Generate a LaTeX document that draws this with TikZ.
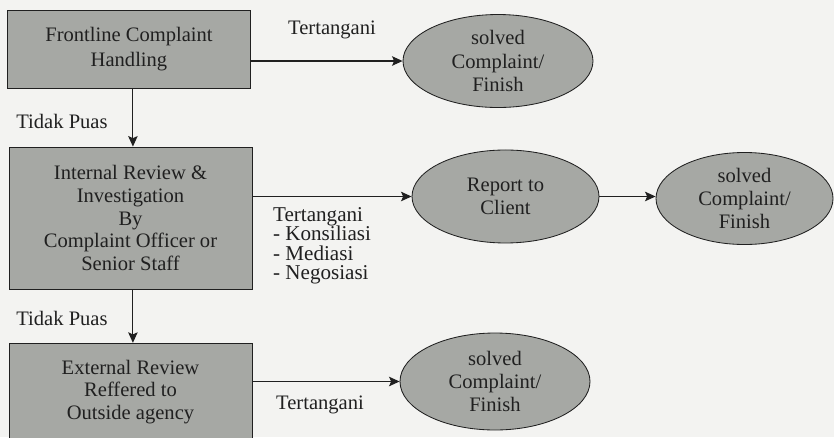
\documentclass[tikz,border=0pt]{standalone}
\usepackage{fontspec}
\setmainfont{Liberation Serif}
\usepackage{xcolor}
\usepackage{tikz}
\usetikzlibrary{arrows.meta,positioning,shapes.geometric}

\definecolor{paper}{RGB}{243,243,241}
\definecolor{boxgray}{RGB}{166,168,164}
\definecolor{inkgray}{RGB}{32,32,32}

\begin{document}
\begin{tikzpicture}[
    stagebox/.style={draw=inkgray, line width=0.8pt, fill=boxgray, text=inkgray, align=center,
        minimum width=8.1cm, inner sep=0pt, font=\fontsize{19.5}{21.5}\selectfont},
    result/.style={draw=inkgray, line width=0.8pt, ellipse, fill=boxgray, text=inkgray, align=center,
        inner sep=0pt, font=\fontsize{19.5}{22}\selectfont},
    note/.style={text=inkgray, font=\fontsize{19.5}{22}\selectfont},
    edge/.style={inkgray, line width=1.1pt, -{Stealth[length=10pt, width=9pt, inset=2pt]}}
]

\fill[paper] (0,0) rectangle (27.8,14.567);
\clip (0,0) rectangle (27.8,14.567);

\node[stagebox, minimum height=2.6cm] (front) at (4.3, 12.933)
  {Frontline Complaint\\[3pt]Handling};
\node[stagebox, minimum height=4.733cm] (internal) at (4.35, 7.3)
  {Internal Review \&\\Investigation\\By\\Complaint Officer or\\Senior Staff};
\node[stagebox, minimum height=3.25cm] (external) at (4.35, 1.5)
  {External Review\\Reffered to\\Outside agency};

\node[result, minimum width=6.333cm, minimum height=3.1cm] (solvedA) at (16.6, 12.533)
  {solved\\Complaint/\\Finish};
\node[result, minimum width=6.233cm, minimum height=3.1cm] (report) at (16.85, 8.017)
  {Report to\\Client};
\node[result, minimum width=5.9cm, minimum height=3.067cm] (solvedB) at (24.817, 7.95)
  {solved\\Complaint/\\Finish};
\node[result, minimum width=6.333cm, minimum height=3.233cm] (solvedC) at (16.5, 1.85)
  {solved\\Complaint/\\Finish};

\draw[edge] (front.south -| 4.43,0) -- (internal.north -| 4.43,0);
\draw[edge] (internal.south -| 4.43,0) -- (external.north -| 4.43,0);
\draw[edge] (solvedA.west -| front.east) -- (solvedA.west);
\draw[edge] (report.west -| internal.east) -- (report.west);
\draw[edge] (report.east) -- (report.east -| solvedB.west);
\draw[edge] (solvedC.west -| external.east) -- (solvedC.west);

\node[note] (handledA) at (11.067, 13.567) {Tertangani};
\node[note] (unhappyA) at (2.067, 10.533) {Tidak Puas};
\node[note, align=left, anchor=north west, font=\fontsize{20}{18.5}\selectfont] (handledB) at (8.98, 7.78)
  {Tertangani\\- Konsiliasi\\- Mediasi\\- Negosiasi};
\node[note] (unhappyB) at (2.067, 3.967) {Tidak Puas};
\node[note] (handledC) at (10.667, 1.067) {Tertangani};

\end{tikzpicture}
\end{document}
